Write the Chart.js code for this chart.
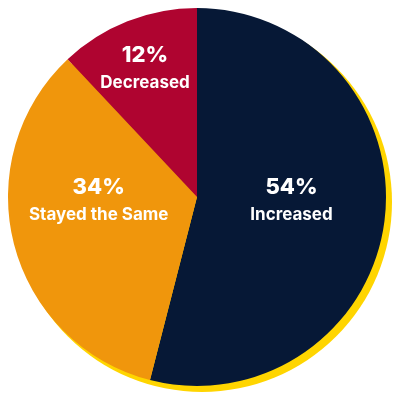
<!DOCTYPE html>
<html><head><meta charset="utf-8">
<script src="https://cdn.jsdelivr.net/npm/chart.js@4"></script>
<style>html,body{margin:0;padding:0;background:#fff}#wrap{width:400px;height:400px}</style>
</head><body><div id="wrap"><canvas id="c"></canvas></div>
<script>
const categories = ["Increased", "Stayed the Same", "Decreased"];
const values = [54, 34, 12];
const sliceColors = ["#061836", "#F0960C", "#AF0430"];
const labelPos = [[0.50, 0.02], [-0.52, 0.02], [-0.275, -0.68]];

const shadowPlugin = {
  id: 'shadow',
  beforeDatasetsDraw(chart) {
    const arc = chart.getDatasetMeta(0).data[0];
    if (!arc) return;
    const ctx = chart.ctx;
    ctx.save();
    ctx.fillStyle = '#FFD500';
    ctx.beginPath();
    ctx.arc(arc.x + 5, arc.y + 5, arc.outerRadius + 1, 0, Math.PI * 2);
    ctx.fill();
    ctx.restore();
  }
};
const labelPlugin = {
  id: 'labels',
  afterDatasetsDraw(chart) {
    const meta = chart.getDatasetMeta(0);
    const ctx = chart.ctx;
    ctx.save();
    ctx.fillStyle = '#fff';
    ctx.textAlign = 'center';
    ctx.textBaseline = 'middle';
    meta.data.forEach((arc, i) => {
      const x = arc.x + labelPos[i][0] * arc.outerRadius;
      const y = arc.y + labelPos[i][1] * arc.outerRadius;
      ctx.font = '800 22px Inter';
      ctx.fillText(values[i] + '%', x, y - 13);
      ctx.font = 'bold 17px Inter';
      ctx.fillText(categories[i], x, y + 14);
    });
    ctx.restore();
  }
};
new Chart(document.getElementById('c'), {
  type: 'pie',
  data: { labels: categories, datasets: [{ data: values, backgroundColor: sliceColors, borderWidth: 0 }] },
  options: {
    responsive: true, maintainAspectRatio: false, animation: false,
    layout: { padding: { left: 8, top: 8, right: 14, bottom: 14 } },
    plugins: { legend: { display: false }, tooltip: { enabled: false } }
  },
  plugins: [shadowPlugin, labelPlugin]
});
</script></body></html>
